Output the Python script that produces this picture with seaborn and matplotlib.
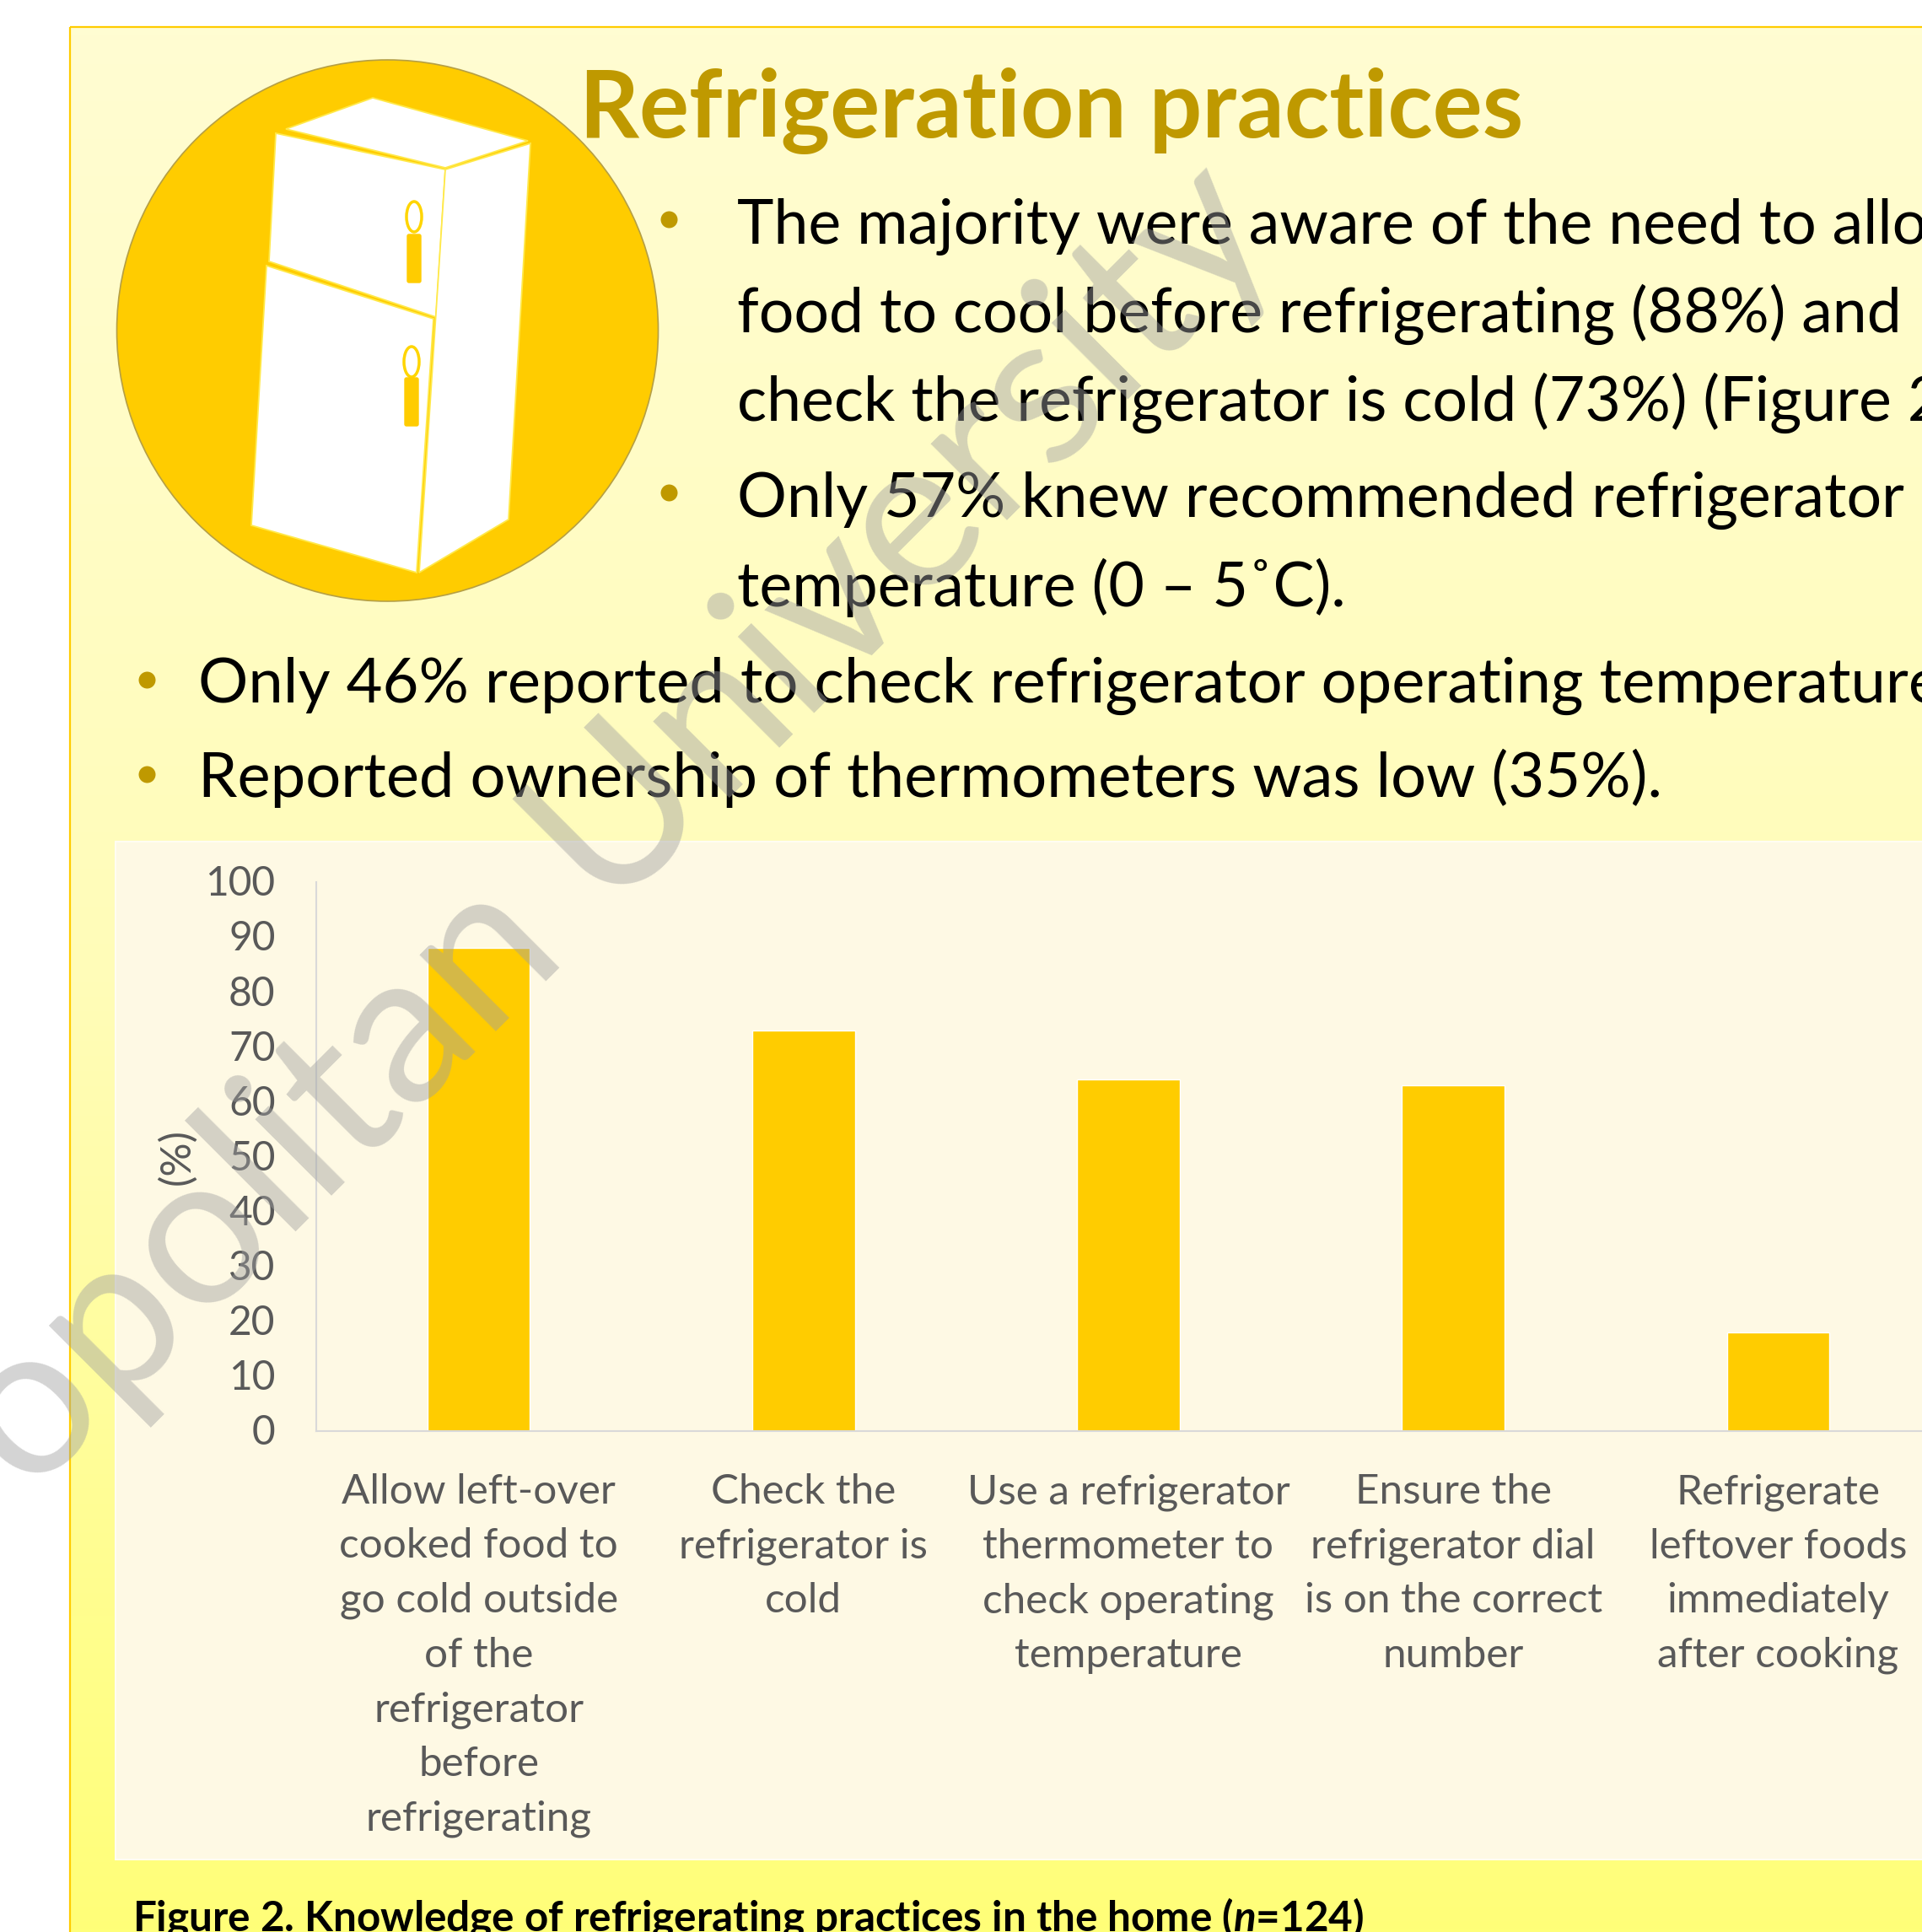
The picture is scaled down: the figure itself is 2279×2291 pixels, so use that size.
import numpy as np
import pandas as pd
import matplotlib
matplotlib.use("Agg")
import matplotlib.pyplot as plt
from matplotlib.colors import LinearSegmentedColormap
from matplotlib.patches import Circle, Ellipse, FancyBboxPatch, Polygon, Rectangle
from matplotlib.transforms import ScaledTranslation
import seaborn as sns

# Chart data
practices = [
    "Allow left-over\ncooked food to\ngo cold outside\nof the\nrefrigerator\nbefore\nrefrigerating",
    "Check the\nrefrigerator is\ncold",
    "Use a refrigerator\nthermometer to\ncheck operating\ntemperature",
    "Ensure the\nrefrigerator dial\nis on the correct\nnumber",
    "Refrigerate\nleftover foods\nimmediately\nafter cooking",
]
percent = [88, 73, 64, 63, 18]
y_ticks = list(range(0, 101, 10))

title = "Refrigeration practices"
caption = r"Figure 2. Knowledge of refrigerating practices in the home ($\mathbfit{n}$=124)"
upper_lines = [
    (874, 289, "The majority were aware of the need to allow"),
    (874, 394, "food to cool before refrigerating (88%) and"),
    (874, 499, "check the refrigerator is cold (73%) (Figure 2"),
    (874, 613, "Only 57% knew recommended refrigerator"),
    (874, 719, "temperature (0 – 5˚C)."),
]
lower_lines = [
    (235, 833, "Only 46% reported to check refrigerator operating temperature"),
    (235, 945, "Reported ownership of thermometers was low (35%)."),
]
bullets = [(793, 260), (793, 584), (174, 806), (174, 918)]

W, H = 2279, 2291
GOLD = "#FFCC00"
DARK_GOLD = "#BF9900"
GREY = "#595959"

sns.set_style("white")
plt.rcParams["font.family"] = ["Lato", "DejaVu Sans"]
plt.rcParams["mathtext.fontset"] = "custom"
plt.rcParams["mathtext.bfit"] = "Lato:italic:bold"
plt.rcParams["mathtext.rm"] = "Lato:bold"

fig = plt.figure(figsize=(W / 100, H / 100), dpi=100, facecolor="white")

# Poster panel, drawn in pixel coordinates
bg = fig.add_axes([0, 0, 1, 1], zorder=0)
bg.set_xlim(0, W)
bg.set_ylim(H, 0)
bg.axis("off")

ramp = LinearSegmentedColormap.from_list("panel", ["#FFFDD2", "#FFFCB8", "#FFFF78"])
grad = bg.imshow(np.linspace(0, 1, 256).reshape(-1, 1), cmap=ramp, aspect="auto",
                 extent=(83, W + 5, H + 5, 32), zorder=1)
bg.set_xlim(0, W)
bg.set_ylim(H, 0)
bg.add_patch(Rectangle((83, 32), W, H, fill=False, ec=GOLD, lw=1.6, zorder=2))
bg.add_patch(Rectangle((137, 998), W, 1207, fc="#FEF9E4", ec="#FFFDF2", lw=1.5, zorder=2))

# Fridge icon
bg.add_patch(Circle((459.5, 392), 321, fc=GOLD, ec="#B59F45", lw=1.2, zorder=3))
fridge = [
    [(339, 153), (442, 116), (626, 167), (528, 199)],
    [(327, 158), (528, 201), (517, 376), (319, 310)],
    [(316, 315), (514, 378), (494, 679), (298, 623)],
    [(528, 201), (629, 170), (603, 616), (497, 679)],
]
for pts in fridge:
    bg.add_patch(Polygon(pts, closed=True, fc="white", ec="#FFE94A", lw=1.3, zorder=4))
for cx, cy, top in [(491, 257, 276), (488, 429, 446)]:
    bg.add_patch(Ellipse((cx, cy), 18, 36, fc="white", ec="#FFD500", lw=2.5, zorder=5))
    bg.add_patch(FancyBboxPatch((cx - 6, top + 4), 12, 53, boxstyle="round,pad=2",
                                fc=GOLD, ec=GOLD, lw=1, zorder=5))

bg.text(687, 163, title, fontsize=79.6, fontweight="bold", color=DARK_GOLD, zorder=6)
for x, y, line in upper_lines:
    bg.text(x, y, line, fontsize=52.9, color="black", zorder=6)
for x, y, line in lower_lines:
    bg.text(x, y, line, fontsize=53.4, color="black", zorder=6)
bx, by = zip(*bullets)
bg.scatter(bx, by, s=207, color=DARK_GOLD, linewidths=0, zorder=6)
bg.text(157, 2290, caption, fontsize=35.6, fontweight="bold", color="black", zorder=6)

# Bar chart
ax = fig.add_axes([375 / W, 1 - 1697 / H, (W - 375) / W, (1697 - 1046) / H], zorder=1)
ax.patch.set_alpha(0)
df = pd.DataFrame({"practice": practices, "percent": percent})
sns.barplot(data=df, x="practice", y="percent", color=GOLD, saturation=1, width=0.316, ax=ax)
ax.set_xlim(-0.5, 4.443)
ax.set_ylim(0, 100)
ax.set_yticks(y_ticks)
ax.set_xlabel("")
ax.set_ylabel("(%)", fontsize=36, color=GREY, labelpad=7)
ax.tick_params(axis="y", length=0, pad=35, labelsize=34.5, labelcolor=GREY)
ax.tick_params(axis="x", length=0, pad=36, labelsize=35.6, labelcolor=GREY)
for lab in ax.get_xticklabels():
    lab.set_linespacing(1.566)
nudge = ScaledTranslation(0, 1.2 / 72, fig.dpi_scale_trans)
for lab in ax.get_yticklabels():
    lab.set_transform(lab.get_transform() + nudge)
sns.despine(ax=ax, top=True, right=True)
ax.spines["left"].set_color("#D9D9D9")
ax.spines["bottom"].set_color("#D9D9D9")
ax.spines["left"].set_linewidth(1.5)
ax.spines["bottom"].set_linewidth(1.5)

# Watermark across everything
top = fig.add_axes([0, 0, 1, 1], zorder=5)
top.set_xlim(0, W)
top.set_ylim(H, 0)
top.axis("off")
top.text(1524, 288, "Metropolitan University", fontsize=182, color="#A0A0A0", alpha=0.45,
         rotation=45, rotation_mode="anchor", ha="right", va="baseline")

fig.savefig("out.png", dpi=100)
